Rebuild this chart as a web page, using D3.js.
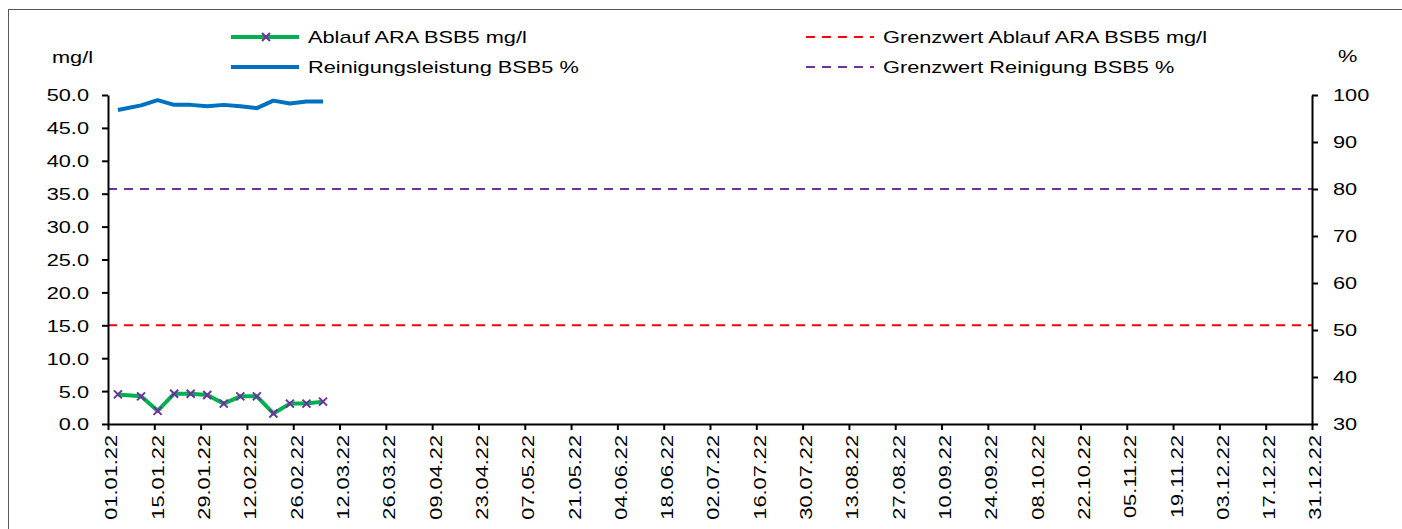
<!DOCTYPE html>
<html>
<head>
<meta charset="utf-8">
<script src="https://cdn.jsdelivr.net/npm/d3@7"></script>
<style>
  html, body { margin: 0; padding: 0; background: #fff; }
  svg { display: block; font-family: "Liberation Sans", Arial, sans-serif; }
</style>
</head>
<body>
<div id="chart"></div>
<script>
// sample dates and values
const sampleDates = ["04.01.22", "11.01.22", "16.01.22", "21.01.22", "26.01.22", "31.01.22", "05.02.22",
  "10.02.22", "15.02.22", "20.02.22", "25.02.22", "02.03.22", "07.03.22"];
const ablaufBSB5 = [4.5, 4.2, 2.0, 4.6, 4.6, 4.4, 3.1, 4.2, 4.2, 1.6, 3.1, 3.1, 3.4];
const reinigungBSB5 = [96.8, 97.8, 98.9, 97.9, 97.9, 97.6, 97.9, 97.6, 97.2, 98.8, 98.2, 98.6, 98.6];
const grenzAblauf = 15;
const grenzReinigung = 80;

const xTickLabels = ["01.01.22", "15.01.22", "29.01.22", "12.02.22", "26.02.22", "12.03.22", "26.03.22",
  "09.04.22", "23.04.22", "07.05.22", "21.05.22", "04.06.22", "18.06.22", "02.07.22", "16.07.22",
  "30.07.22", "13.08.22", "27.08.22", "10.09.22", "24.09.22", "08.10.22", "22.10.22", "05.11.22",
  "19.11.22", "03.12.22", "17.12.22", "31.12.22"];
const leftTicks = [0, 5, 10, 15, 20, 25, 30, 35, 40, 45, 50];
const rightTicks = [30, 40, 50, 60, 70, 80, 90, 100];

const legendItems = [
  { label: "Ablauf ARA BSB5 mg/l", color: "#00B050", dash: null, marker: true },
  { label: "Reinigungsleistung BSB5 %", color: "#0070C0", dash: null, marker: false },
  { label: "Grenzwert Ablauf ARA BSB5 mg/l", color: "#FF0000", dash: "9,7", marker: false },
  { label: "Grenzwert Reinigung BSB5 %", color: "#7030A0", dash: "9,7", marker: false },
];

const W = 1402, H = 529;
const FS = 17, SX = 1.28;  // font is drawn wide in the original
const margin = { top: 95, right: 90, bottom: 105, left: 108 };
const parse = d3.utcParse("%d.%m.%y");

const svg = d3.select("#chart").append("svg").attr("width", W).attr("height", H);

svg.append("rect")
  .attr("x", 8.5).attr("y", 9.5).attr("width", W).attr("height", H)
  .attr("fill", "none").attr("stroke", "#595959").attr("stroke-width", 1);

const x = d3.scaleUtc()
  .domain([parse(xTickLabels[0]), parse(xTickLabels[xTickLabels.length - 1])])
  .range([margin.left, W - margin.right]);
const yL = d3.scaleLinear().domain([0, 50]).range([H - margin.bottom, margin.top]);
const yR = d3.scaleLinear().domain([30, 100]).range([H - margin.bottom, margin.top]);

function styleAxis(g) {
  g.select(".domain").attr("stroke", "#000").attr("stroke-width", 2);
  g.selectAll(".tick line").attr("stroke", "#000").attr("stroke-width", 2);
  g.selectAll(".tick text").attr("fill", "#000").attr("font-size", FS);
}

// threshold lines
svg.append("line")
  .attr("x1", x.range()[0]).attr("x2", x.range()[1])
  .attr("y1", yL(grenzAblauf)).attr("y2", yL(grenzAblauf))
  .attr("stroke", "#FF0000").attr("stroke-width", 2).attr("stroke-dasharray", "9,7");
svg.append("line")
  .attr("x1", x.range()[0]).attr("x2", x.range()[1])
  .attr("y1", yR(grenzReinigung)).attr("y2", yR(grenzReinigung))
  .attr("stroke", "#7030A0").attr("stroke-width", 2).attr("stroke-dasharray", "9,7");

// axes
svg.append("g")
  .attr("transform", `translate(${margin.left},0)`)
  .call(d3.axisLeft(yL).tickValues(leftTicks).tickFormat(d3.format(".1f")).tickSize(6).tickSizeOuter(0))
  .call(styleAxis)
  .call(g => g.selectAll(".tick text")
    .attr("x", null).attr("dy", "0.35em")
    .attr("transform", `translate(-19,0) scale(${SX},1)`));

svg.append("g")
  .attr("transform", `translate(${W - margin.right},0)`)
  .call(d3.axisRight(yR).tickValues(rightTicks).tickSize(6).tickSizeOuter(0))
  .call(styleAxis)
  .call(g => g.selectAll(".tick text")
    .attr("x", null).attr("dy", "0.35em")
    .attr("transform", `translate(21,0) scale(${SX},1)`));

svg.append("g")
  .attr("transform", `translate(0,${H - margin.bottom})`)
  .call(d3.axisBottom(x).tickValues(xTickLabels.map(parse))
    .tickFormat(d3.utcFormat("%d.%m.%y")).tickSize(6).tickSizeOuter(0))
  .call(styleAxis)
  .call(g => g.selectAll(".tick text")
    .attr("x", 0).attr("y", 0).attr("dy", "0.35em")
    .attr("text-anchor", "end")
    .attr("transform", `translate(3,11) rotate(-90) scale(${SX},1)`));

// data lines
const pts = sampleDates.map((d, i) => ({ date: parse(d), a: ablaufBSB5[i], r: reinigungBSB5[i] }));

svg.append("path").datum(pts)
  .attr("fill", "none").attr("stroke", "#0070C0").attr("stroke-width", 4)
  .attr("stroke-linejoin", "round")
  .attr("d", d3.line().x(d => x(d.date)).y(d => yR(d.r)));

svg.append("path").datum(pts)
  .attr("fill", "none").attr("stroke", "#00B050").attr("stroke-width", 4)
  .attr("stroke-linejoin", "round")
  .attr("d", d3.line().x(d => x(d.date)).y(d => yL(d.a)));

const crossPath = "M-4,-4L4,4M-4,4L4,-4";
svg.selectAll(".mark").data(pts).join("path")
  .attr("class", "mark")
  .attr("transform", d => `translate(${x(d.date)},${yL(d.a)})`)
  .attr("d", crossPath)
  .attr("stroke", "#7030A0").attr("stroke-width", 2).attr("fill", "none");

// axis titles
svg.append("text").attr("transform", `translate(52,63) scale(${SX},1)`)
  .attr("font-size", FS).attr("fill", "#000").text("mg/l");
svg.append("text").attr("transform", `translate(1338,62) scale(${SX},1)`)
  .attr("font-size", FS).attr("fill", "#000").text("%");

// legend
const legendPos = [[231, 37], [231, 67], [806, 37], [806, 67]];
legendItems.forEach((item, i) => {
  const [lx, ly] = legendPos[i];
  const g = svg.append("g").attr("transform", `translate(${lx},${ly})`);
  g.append("line").attr("x1", 0).attr("x2", 68).attr("y1", 0).attr("y2", 0)
    .attr("stroke", item.color)
    .attr("stroke-width", item.dash ? 2 : 4)
    .attr("stroke-dasharray", item.dash);
  if (item.marker) {
    g.append("path").attr("transform", "translate(35,0)").attr("d", crossPath)
      .attr("stroke", "#7030A0").attr("stroke-width", 2).attr("fill", "none");
  }
  g.append("text").attr("transform", `translate(77,0) scale(${SX},1)`)
    .attr("dy", "0.35em").attr("font-size", FS).attr("fill", "#000").text(item.label);
});
</script>
</body>
</html>
